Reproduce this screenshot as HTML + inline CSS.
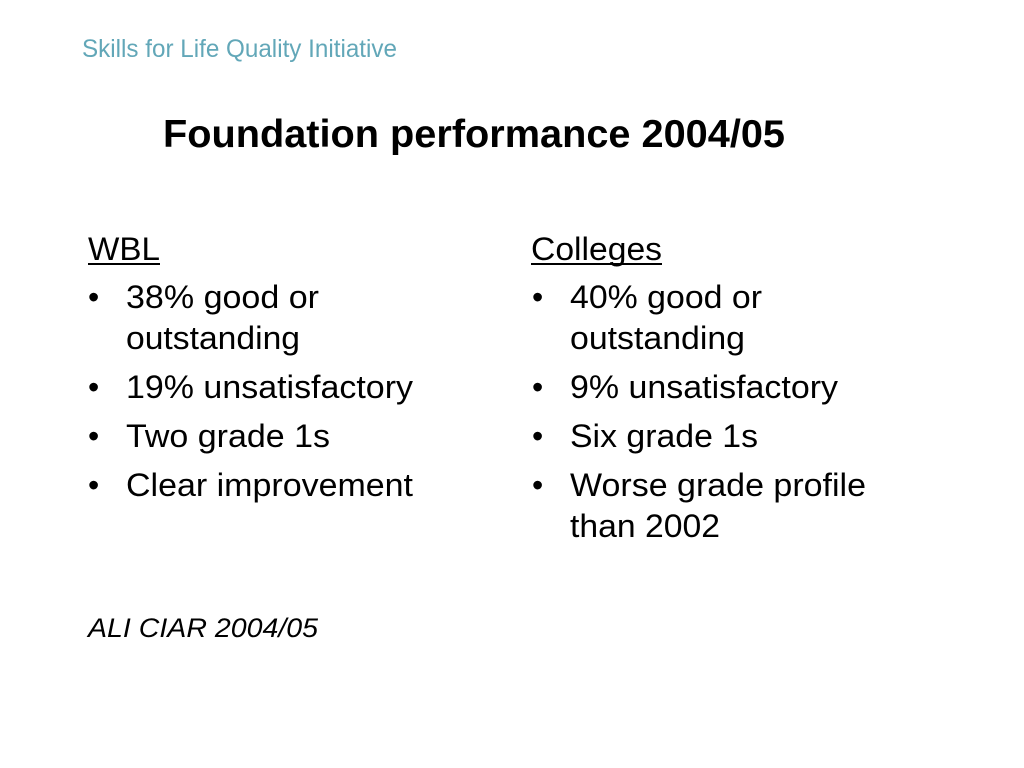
<!DOCTYPE html>
<html><head><meta charset="utf-8"><style>
html,body{margin:0;padding:0;background:#fff;width:1024px;height:768px;overflow:hidden}
svg{display:block}
text{font-family:"Liberation Sans",Arial,sans-serif;fill:#000}
</style></head><body>
<svg width="1024" height="768" viewBox="0 0 1024 768">
<text x="82" y="57" font-size="25" style="fill:#62a7b8" textLength="315" lengthAdjust="spacingAndGlyphs">Skills for Life Quality Initiative</text>
<text x="163" y="147" font-size="39" font-weight="bold" textLength="622" lengthAdjust="spacingAndGlyphs">Foundation performance 2004/05</text>

<g font-size="32">
<text x="88" y="260" textLength="72" lengthAdjust="spacingAndGlyphs">WBL</text>
<rect x="88" y="263" width="72" height="2" fill="#000"/>
<text x="88" y="308">•</text><text x="126" y="308" textLength="193" lengthAdjust="spacingAndGlyphs">38% good or</text>
<text x="126" y="349" textLength="174" lengthAdjust="spacingAndGlyphs">outstanding</text>
<text x="88" y="398">•</text><text x="126" y="398" textLength="287" lengthAdjust="spacingAndGlyphs">19% unsatisfactory</text>
<text x="88" y="447">•</text><text x="126" y="447" textLength="204" lengthAdjust="spacingAndGlyphs">Two grade 1s</text>
<text x="88" y="496">•</text><text x="126" y="496" textLength="287" lengthAdjust="spacingAndGlyphs">Clear improvement</text>
</g>

<g font-size="32">
<text x="531" y="260" textLength="131" lengthAdjust="spacingAndGlyphs">Colleges</text>
<rect x="531" y="263" width="131" height="2" fill="#000"/>
<text x="532" y="308">•</text><text x="570" y="308" textLength="192" lengthAdjust="spacingAndGlyphs">40% good or</text>
<text x="570" y="349" textLength="175" lengthAdjust="spacingAndGlyphs">outstanding</text>
<text x="532" y="398">•</text><text x="570" y="398" textLength="268" lengthAdjust="spacingAndGlyphs">9% unsatisfactory</text>
<text x="532" y="447">•</text><text x="570" y="447" textLength="188" lengthAdjust="spacingAndGlyphs">Six grade 1s</text>
<text x="532" y="496">•</text><text x="570" y="496" textLength="296" lengthAdjust="spacingAndGlyphs">Worse grade profile</text>
<text x="570" y="537" textLength="150" lengthAdjust="spacingAndGlyphs">than 2002</text>
</g>

<text x="88" y="637" font-size="27" font-style="italic" textLength="230" lengthAdjust="spacingAndGlyphs">ALI CIAR 2004/05</text>
</svg>
</body></html>
